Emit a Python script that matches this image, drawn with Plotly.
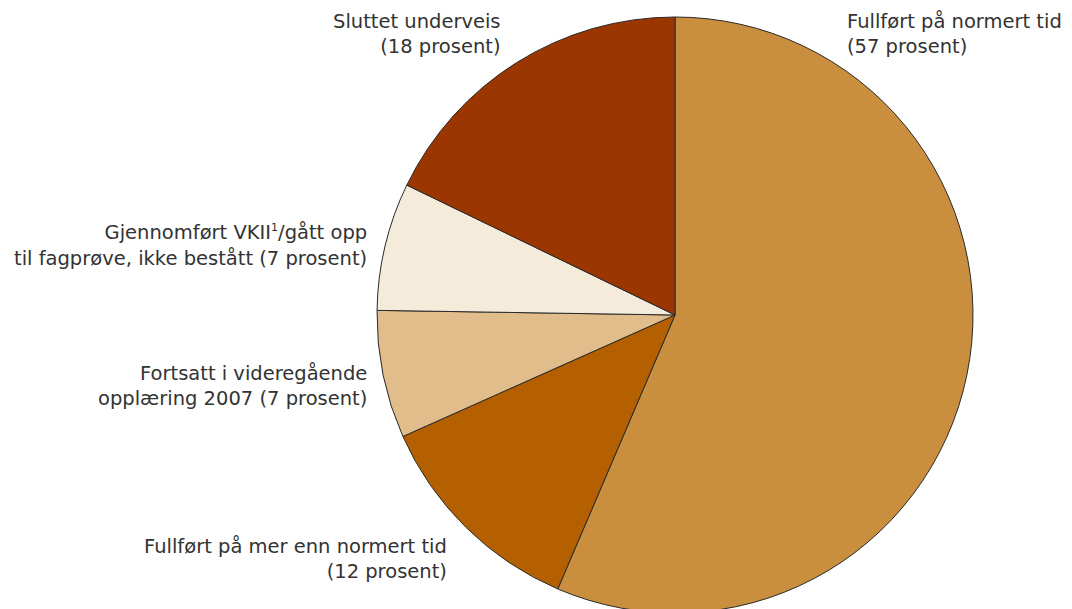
import plotly.graph_objects as go

categories = [
    "Fullført på normert tid",
    "Fullført på mer enn normert tid",
    "Fortsatt i videregående opplæring 2007",
    "Gjennomført VKII¹/gått opp til fagprøve, ikke bestått",
    "Sluttet underveis",
]
values = [57, 12, 7, 7, 18]
colors = ["#C98F3F", "#B56000", "#E0BD8B", "#F5EBDB", "#9C3600"]

label_texts = [
    "Fullført på normert tid<br>(57 prosent)",
    "Fullført på mer enn normert tid<br>(12 prosent)",
    "Fortsatt i videregående<br>opplæring 2007 (7 prosent)",
    "Gjennomført VKII<sup><span style='font-size:11px'>1</span></sup>/gått opp<br>til fagprøve, ikke bestått (7 prosent)",
    "Sluttet underveis<br>(18 prosent)",
]
# label anchor positions in pixels (x, y-center) and alignment
label_pos = [(845, 34, "left"), (449, 559, "right"), (369, 386, "right"),
             (369, 246, "right"), (503, 34, "right")]

W, H = 1072, 630
cx, cy, r = 675, 315, 298

fig = go.Figure(go.Pie(
    labels=categories,
    values=values,
    sort=False,
    direction="clockwise",
    rotation=0,
    marker=dict(colors=colors, line=dict(color="#2a2a2a", width=1)),
    textinfo="none",
    hoverinfo="label+value",
    showlegend=False,
    domain=dict(x=[(cx - r) / W, (cx + r) / W], y=[1 - (cy + r) / H, 1 - (cy - r) / H]),
))

for txt, (px, py, al) in zip(label_texts, label_pos):
    fig.add_annotation(
        text=txt, x=px / W, y=1 - py / H, xref="paper", yref="paper",
        xanchor=al, yanchor="middle", align=al, showarrow=False,
        font=dict(family="DejaVu Sans", size=19.5, color="#333333"),
    )

fig.update_layout(
    width=W, height=H,
    margin=dict(l=0, r=0, t=0, b=0),
    paper_bgcolor="white", plot_bgcolor="white",
)

fig.write_html(
    "out.html",
    config={"displayModeBar": False},
    post_script="document.body.style.margin='0';document.body.style.overflow='hidden';document.documentElement.style.overflow='hidden';",
)
